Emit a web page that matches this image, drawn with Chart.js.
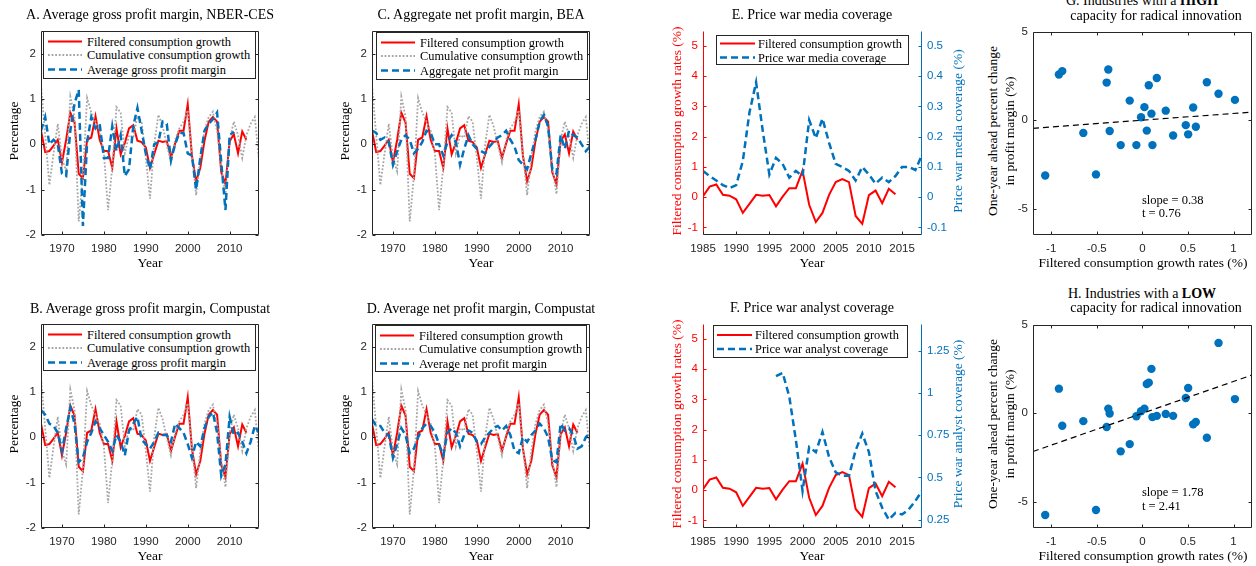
<!DOCTYPE html>
<html>
<head>
<meta charset="utf-8">
<script src="https://cdn.jsdelivr.net/npm/chart.js@4.4.1/dist/chart.umd.min.js"></script>
<style>
body { margin: 0; width: 1256px; height: 566px; position: relative; overflow: hidden; background: #fff; font-family: "Liberation Serif", serif; }
canvas { position: absolute; }
.t { position: absolute; white-space: nowrap; color: #000; font-size: 14px; line-height: 1; transform: translate(-50%, -50%); }
.leg { position: absolute; border: 1px solid #262626; background: #fff; box-sizing: border-box; font-size: 12.4px; }
.leg span { position: absolute; white-space: nowrap; line-height: 1; transform: translateY(-50%); }
</style>
</head>
<body>
<script>
// ---- data ----
const yearsAll = [1965,1966,1967,1968,1969,1970,1971,1972,1973,1974,1975,1976,1977,1978,1979,1980,1981,1982,1983,1984,
  1985,1986,1987,1988,1989,1990,1991,1992,1993,1994,1995,1996,1997,1998,1999,2000,2001,2002,2003,2004,
  2005,2006,2007,2008,2009,2010,2011,2012,2013,2014,2015,2016,2017,2018];

// filtered consumption growth, 1965-2014
const consFiltered = [0.30,-0.17,-0.15,-0.03,0.10,-0.40,0.10,0.70,0.48,-0.65,
  -0.75,0.10,0.15,0.62,0.10,-0.15,-0.15,-0.52,0.35,-0.22,
  0.03,0.35,0.42,0.08,0.05,-0.07,-0.52,-0.22,0.08,0.05,
  0.07,-0.30,0.02,0.30,0.30,0.88,-0.25,-0.82,-0.52,0.08,
  0.50,0.60,0.50,-0.62,-0.88,0.07,0.22,-0.20,0.28,0.10];

// cumulative consumption growth, 1965-2017
const consCumul = [1.30,0.20,-0.90,-0.20,0.45,-0.30,-0.60,1.05,0.60,-1.70,
  -0.70,1.02,0.70,0.50,0.30,-0.20,-1.45,-0.50,0.82,0.70,
  -0.20,0.20,0.15,0.62,0.50,-0.30,-1.20,0.00,0.65,0.40,
  0.00,-0.40,0.10,0.35,0.50,0.75,-0.20,-1.12,-0.30,0.30,
  0.60,0.72,0.30,-0.50,-1.10,0.10,0.50,0.20,-0.30,0.20,
  0.45,0.60,-0.35];

// A: average gross profit margin, NBER-CES, 1965-2011
const gpmNber = [0.30,0.60,0.00,0.10,0.00,-0.65,-0.70,0.30,0.90,1.20,
  -1.80,0.05,0.60,0.35,0.45,-0.30,-0.30,0.40,-0.15,0.20,
  -0.70,-0.55,0.40,0.80,0.30,-0.20,-0.55,0.00,0.05,0.50,
  0.45,-0.35,0.00,0.25,0.25,-0.20,-0.25,-1.00,-0.30,0.30,
  0.45,0.55,0.70,-0.40,-1.45,0.20,0.28];

// B: average gross profit margin, Compustat, 1965-2017
const gpmCompustat = [0.60,0.50,0.30,0.25,0.10,-0.30,0.20,0.65,0.30,-0.55,
  -0.45,-0.10,0.10,0.35,0.20,0.05,-0.10,-0.30,0.05,-0.10,
  -0.40,0.15,0.30,0.45,-0.05,-0.15,-0.25,-0.10,0.10,0.05,
  0.05,-0.10,0.30,0.20,0.10,-0.15,-0.45,-0.10,-0.20,0.20,
  0.45,0.55,0.10,-0.85,-0.60,0.45,0.05,0.10,-0.10,-0.35,
  -0.10,0.25,0.10];

// C: aggregate net profit margin, BEA, 1965-2017
const npmBea = [0.30,0.25,0.10,0.15,0.05,-0.45,-0.15,0.10,0.20,0.10,
  -0.20,-0.10,0.05,0.30,0.25,0.00,0.00,-0.25,0.05,0.20,
  0.05,-0.45,-0.10,0.20,0.00,-0.10,-0.15,-0.20,-0.05,0.05,
  0.15,0.20,0.30,0.10,-0.05,-0.35,-0.45,-0.55,-0.20,0.10,
  0.50,0.65,0.40,-0.55,-0.65,0.20,-0.10,0.30,0.20,0.15,
  0.00,-0.15,-0.05];

// D: average net profit margin, Compustat, 1965-2017
const npmCompustat = [0.40,0.25,0.25,0.10,0.05,-0.45,-0.15,0.20,0.05,-0.35,
  -0.25,0.00,0.20,0.30,0.25,0.10,-0.15,-0.40,0.10,0.20,
  0.10,-0.20,0.05,0.15,0.10,-0.10,-0.15,0.00,0.10,0.20,
  0.25,0.15,0.25,0.05,-0.30,-0.35,0.00,-0.10,0.05,0.15,
  0.30,0.20,0.00,-0.50,-0.55,0.30,0.15,0.20,0.05,-0.25,
  -0.20,0.00,0.10];

// E: price war media coverage, 1985-2018
const mediaYears = yearsAll.slice(20);
const mediaCoverage = [0.087,0.070,0.055,0.040,0.030,0.040,0.120,0.280,0.380,0.220,
  0.075,0.130,0.110,0.065,0.087,0.070,0.255,0.195,0.260,0.180,
  0.110,0.100,0.087,0.055,0.100,0.075,0.045,0.065,0.050,0.070,
  0.100,0.100,0.090,0.140];

// F: price war analyst coverage, 1996-2018
const analystYears = yearsAll.slice(31);
const analystCoverage = [1.10,1.12,0.98,0.72,0.42,0.68,0.65,0.77,0.62,0.53,
  0.51,0.51,0.66,0.76,0.65,0.42,0.32,0.25,0.29,0.28,
  0.31,0.36,0.42];

// G/H: industry scatter
const scatterX = [-0.916,-0.879,-0.374,-0.392,-1.066,-0.648,-0.359,-0.509,-0.238,-0.139,
  -0.066,-0.015,0.022,0.048,0.070,0.099,0.110,0.158,0.256,0.337,
  0.476,0.502,0.557,0.586,0.707,0.835,1.015];
const highY = [2.59,2.78,2.87,2.13,-3.13,-0.72,-0.61,-3.07,-1.41,1.11,
  -1.41,0.17,0.74,-0.59,1.98,0.37,-1.41,2.39,0.54,-0.87,
  -0.28,-0.80,0.72,-0.37,2.15,1.50,1.15];
const lowY = [1.39,-0.71,0.26,-0.78,-5.76,-0.45,-0.02,-5.48,-2.16,-1.75,
  -0.17,0.11,0.26,1.65,1.73,2.51,-0.22,-0.15,-0.04,-0.15,
  0.86,1.43,-0.63,-0.50,-1.39,3.98,0.80];
const fitX = [-1.2, 1.2];
const fitHighY = [-0.46, 0.46];
const fitLowY = [-2.17, 2.16];

// tick labels
const yearTicks = [1970,1980,1990,2000,2010];
const pctTicks = [-2,-1,0,1,2];
const recentYearTicks = [1985,1990,1995,2000,2005,2010,2015];
const growthTicks = [-1,0,1,2,3,4,5];
const mediaTicks = [-0.1,0,0.1,0.2,0.3,0.4,0.5];
const analystTicks = [0.25,0.5,0.75,1,1.25];
const scatXTicks = [-1,-0.5,0,0.5,1];
const scatYTicks = [-5,0,5];

// ---- styles ----
const RED = '#ff0000', BLUE = '#0072bd', GRAY = '#a6a6a6', DARK = '#262626';
const TICK_FONT = { family: '"Liberation Sans", Arial, sans-serif', size: 11.5 };
const PAD_TOP = 8, X_H = 22;

function pairs(xs, ys) {
    return ys.map((y, i) => ({ x: xs[i], y: y }));
}

function axis(min, max, list, color, pad, extra) {
    return Object.assign({
        type: 'linear', min: min, max: max,
        afterBuildTicks: s => { s.ticks = list.map(v => ({ value: v })); },
        grid: { display: false, drawTicks: false, tickLength: 0 }, border: { display: false },
        ticks: { font: TICK_FONT, color: color || DARK, padding: pad, maxRotation: 0, autoSkip: false, callback: v => String(v) }
    }, extra || {});
}

// matlab style box with inward ticks
const boxPlugin = {
    id: 'matBox',
    afterDraw(chart, args, o) {
        const ctx = chart.ctx, a = chart.chartArea, sc = chart.scales;
        const L = Math.round(a.left) + 0.5, R = Math.round(a.right) - 0.5;
        const T = Math.round(a.top) + 0.5, B = Math.round(a.bottom) - 0.5;
        const tl = 3;
        const lc = o.leftColor || DARK, rc = o.rightColor || DARK;
        ctx.save();
        ctx.lineWidth = 1;
        const seg = (c, x1, y1, x2, y2) => { ctx.strokeStyle = c; ctx.beginPath(); ctx.moveTo(x1, y1); ctx.lineTo(x2, y2); ctx.stroke(); };
        seg(DARK, L, B, R, B);
        if (!o.dual) seg(DARK, L, T, R, T);
        seg(lc, L, T, L, B);
        seg(rc, R, T, R, B);
        sc.x.ticks.forEach(t => {
            const p = Math.round(sc.x.getPixelForValue(t.value)) + 0.5;
            seg(DARK, p, B, p, B - tl);
            if (!o.dual) seg(DARK, p, T, p, T + tl);
        });
        sc.y.ticks.forEach(t => {
            const p = Math.round(sc.y.getPixelForValue(t.value)) + 0.5;
            seg(lc, L, p, L + tl, p);
            if (!o.dual) seg(DARK, R, p, R - tl, p);
        });
        if (sc.y2) sc.y2.ticks.forEach(t => {
            const p = Math.round(sc.y2.getPixelForValue(t.value)) + 0.5;
            seg(rc, R, p, R - tl, p);
        });
        ctx.restore();
    }
};

function makeCanvas(L, T, R, B, wl, wr) {
    const c = document.createElement('canvas');
    const w = (R - L) + wl + wr, h = (B - T) + PAD_TOP + X_H;
    c.width = w; c.height = h;
    c.style.left = (L - wl) + 'px'; c.style.top = (T - PAD_TOP) + 'px';
    c.style.width = w + 'px'; c.style.height = h + 'px';
    document.body.appendChild(c);
    return c;
}

function txt(html, x, y, o) {
    o = o || {};
    const d = document.createElement('div');
    d.className = 't';
    d.innerHTML = html;
    d.style.left = x + 'px'; d.style.top = y + 'px';
    if (o.size) d.style.fontSize = o.size + 'px';
    if (o.color) d.style.color = o.color;
    if (o.rot) d.style.transform = 'translate(-50%, -50%) rotate(-90deg)';
    if (o.left) d.style.transform = 'translate(0, -50%)';
    document.body.appendChild(d);
}

function legendBox(x, y, w, h, entries, rowYs, s0, s1, tx) {
    const d = document.createElement('div');
    d.className = 'leg';
    d.style.left = x + 'px'; d.style.top = y + 'px';
    d.style.width = w + 'px'; d.style.height = h + 'px';
    let svg = '<svg width="' + w + '" height="' + h + '" style="position:absolute;left:0;top:0">';
    entries.forEach((e, i) => {
        svg += '<line x1="' + s0 + '" x2="' + s1 + '" y1="' + rowYs[i] + '" y2="' + rowYs[i] + '" stroke="' + e.color +
            '" stroke-width="' + e.width + '" stroke-dasharray="' + (e.dash ? e.dash.join(' ') : 'none') + '"/>';
    });
    svg += '</svg>';
    d.innerHTML = svg + entries.map((e, i) => '<span style="left:' + tx + 'px;top:' + rowYs[i] + 'px">' + e.label + '</span>').join('');
    document.body.appendChild(d);
}

const redStyle = { color: RED, width: 2 };
const grayStyle = { color: GRAY, width: 1.8, dash: [1.8, 1.8] };
const blueStyle = { color: BLUE, width: 2.5, dash: [7, 4] };

function lineSet(data, st, order, yAxisID) {
    return {
        data: data, borderColor: st.color, borderWidth: st.width, borderDash: st.dash || [],
        pointRadius: 0, tension: 0, fill: false, showLine: true, order: order, yAxisID: yAxisID || 'y'
    };
}

// ---- panels A-D ----
function marginPanel(box, profit) {
    const c = makeCanvas(box.L, box.T, box.R, box.B, 30, 4);
    new Chart(c, {
        type: 'scatter',
        data: { datasets: [
            lineSet(pairs(yearsAll, consFiltered), redStyle, 3),
            lineSet(pairs(yearsAll, consCumul), grayStyle, 2),
            lineSet(pairs(yearsAll, profit), blueStyle, 1)
        ] },
        options: {
            responsive: false, animation: false, devicePixelRatio: 1,
            layout: { padding: { top: PAD_TOP, right: 4, left: 0, bottom: 0 } },
            scales: {
                x: axis(1965, 2017, yearTicks, DARK, 7, { afterFit: s => { s.height = X_H; } }),
                y: axis(-2, 2.5, pctTicks, DARK, 5, { afterFit: s => { s.width = 30; } })
            },
            plugins: { legend: { display: false }, tooltip: { enabled: false }, matBox: {} }
        },
        plugins: [boxPlugin]
    });
}

const panelA = { L: 41, T: 27, R: 259, B: 235 };
const panelB = { L: 41, T: 320, R: 259, B: 528 };
const panelC = { L: 372, T: 27, R: 590, B: 235 };
const panelD = { L: 372, T: 320, R: 590, B: 528 };
marginPanel(panelA, gpmNber);
marginPanel(panelB, gpmCompustat);
marginPanel(panelC, npmBea);
marginPanel(panelD, npmCompustat);

// ---- panels E-F ----
function coveragePanel(box, xs, cov, rMin, rMax, rTicks) {
    const c = makeCanvas(box.L, box.T, box.R, box.B, 24, 36);
    new Chart(c, {
        type: 'scatter',
        data: { datasets: [
            lineSet(pairs(yearsAll, consFiltered).filter(p => p.x >= 1985), redStyle, 2, 'y'),
            lineSet(pairs(xs, cov), blueStyle, 1, 'y2')
        ] },
        options: {
            responsive: false, animation: false, devicePixelRatio: 1,
            layout: { padding: { top: PAD_TOP, right: 0, left: 0, bottom: 0 } },
            scales: {
                x: axis(1985, 2018, recentYearTicks, DARK, 7, { afterFit: s => { s.height = X_H; } }),
                y: axis(-1.25, 5.5, growthTicks, RED, 5, { position: 'left', afterFit: s => { s.width = 24; } }),
                y2: axis(rMin, rMax, rTicks, BLUE, 5, { position: 'right', afterFit: s => { s.width = 36; } })
            },
            plugins: { legend: { display: false }, tooltip: { enabled: false },
                matBox: { dual: true, leftColor: RED, rightColor: BLUE } }
        },
        plugins: [boxPlugin]
    });
}

const panelE = { L: 703, T: 27, R: 922, B: 235 };
const panelF = { L: 703, T: 320, R: 922, B: 528 };
coveragePanel(panelE, mediaYears, mediaCoverage, -0.125, 0.55, mediaTicks);
coveragePanel(panelF, analystYears, analystCoverage, 0.2, 1.41, analystTicks);

// ---- panels G-H ----
function scatterPanel(box, ys, fitY) {
    const c = makeCanvas(box.L, box.T, box.R, box.B, 30, 3);
    new Chart(c, {
        type: 'scatter',
        data: { datasets: [
            { data: pairs(fitX, fitY), showLine: true, borderColor: '#000', borderWidth: 1.2, borderDash: [6, 4],
              pointRadius: 0, order: 1 },
            { data: pairs(scatterX, ys), showLine: false, pointRadius: 4.2, backgroundColor: BLUE, borderWidth: 0, order: 2 }
        ] },
        options: {
            responsive: false, animation: false, devicePixelRatio: 1,
            layout: { padding: { top: PAD_TOP, right: 3, left: 0, bottom: 0 } },
            scales: {
                x: axis(-1.2, 1.2, scatXTicks, DARK, 7, { afterFit: s => { s.height = X_H; } }),
                y: axis(-6.5, 5, scatYTicks, DARK, 5, { afterFit: s => { s.width = 30; } })
            },
            plugins: { legend: { display: false }, tooltip: { enabled: false }, matBox: {} }
        },
        plugins: [boxPlugin]
    });
}

const panelG = { L: 1033, T: 28, R: 1253, B: 235 };
const panelH = { L: 1033, T: 321, R: 1253, B: 528 };
scatterPanel(panelG, highY, fitHighY);
scatterPanel(panelH, lowY, fitLowY);

// ---- text ----
txt('A. Average gross profit margin, NBER-CES', 150, 15);
txt('B. Average gross profit margin, Compustat', 150, 309);
txt('C. Aggregate net profit margin, BEA', 481, 15);
txt('D. Average net profit margin, Compustat', 481, 309);
txt('E. Price war media coverage', 812, 15);
txt('F. Price war analyst coverage', 812, 308);
txt('G. Industries with a <b>HIGH</b>', 1142, 1);
txt('capacity for radical innovation', 1156, 16);
txt('H. Industries with a <b>LOW</b>', 1142, 294);
txt('capacity for radical innovation', 1156, 308);

[150, 481, 812].forEach(x => { txt('Year', x, 263, { size: 13.5 }); txt('Year', x, 556, { size: 13.5 }); });
txt('Filtered consumption growth rates (%)', 1143, 263, { size: 13.5 });
txt('Filtered consumption growth rates (%)', 1143, 556, { size: 13.5 });
[14, 345].forEach(x => { txt('Percentage', x, 131, { size: 13.5, rot: true }); txt('Percentage', x, 424, { size: 13.5, rot: true }); });
txt('Filtered consumption growth rates (%)', 677, 131, { size: 13.5, rot: true, color: RED });
txt('Filtered consumption growth rates (%)', 677, 424, { size: 13.5, rot: true, color: RED });
txt('Price war media coverage (%)', 958, 131, { size: 13.5, rot: true, color: BLUE });
txt('Price war analyst coverage (%)', 958, 424, { size: 13.5, rot: true, color: BLUE });
[131, 424].forEach(y => {
    txt('One-year ahead percent change', 993, y, { size: 13.5, rot: true });
    txt('in profit margin (%)', 1010, y, { size: 13.5, rot: true });
});
txt('slope = 0.38', 1142, 200, { size: 12.5, left: true });
txt('t = 0.76', 1142, 213, { size: 12.5, left: true });
txt('slope = 1.78', 1142, 492, { size: 12.5, left: true });
txt('t = 2.41', 1142, 506, { size: 12.5, left: true });

// ---- legends ----
const legendA = ['Filtered consumption growth', 'Cumulative consumption growth', 'Average gross profit margin'];
const legendC = ['Filtered consumption growth', 'Cumulative consumption growth', 'Aggregate net profit margin'];
const legendD = ['Filtered consumption growth', 'Cumulative consumption growth', 'Average net profit margin'];
const legendE = ['Filtered consumption growth', 'Price war media coverage'];
const legendF = ['Filtered consumption growth', 'Price war analyst coverage'];
const three = labels => labels.map((l, i) => Object.assign({ label: l }, [redStyle, grayStyle, blueStyle][i]));
const two = labels => labels.map((l, i) => Object.assign({ label: l }, [redStyle, blueStyle][i]));

legendBox(43, 31, 213, 48, three(legendA), [9.5, 23, 37.5], 4, 38, 43);
legendBox(43, 324, 213, 47, three(legendA), [9.5, 23, 37.5], 4, 38, 43);
legendBox(376, 32, 212, 48, three(legendC), [9.5, 23, 37.5], 4, 38, 43);
legendBox(375, 325, 212, 47, three(legendD), [9.5, 23, 37.5], 4, 38, 43);
legendBox(716, 35, 193, 30, two(legendE), [7.5, 21.5], 3, 38, 41);
legendBox(713, 325, 195, 33, two(legendF), [9, 23], 3, 38, 41);
</script>
</body>
</html>
